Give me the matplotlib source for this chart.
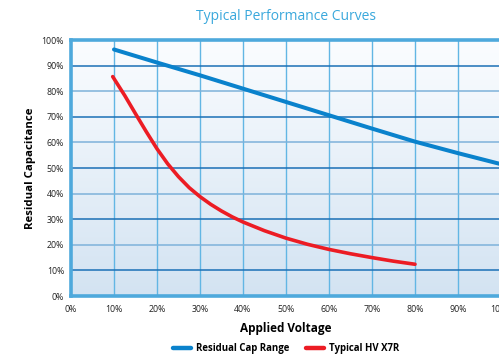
import numpy as np
import matplotlib
matplotlib.use("Agg")
import matplotlib.pyplot as plt
from matplotlib.colors import LinearSegmentedColormap

# applied voltage (% of rated)
volt_blue = [10, 20, 30, 40, 50, 60, 70, 80, 90, 100]
cap_blue = [96.3, 91.2, 86.2, 81.0, 75.8, 70.6, 65.4, 60.3, 55.8, 51.5]

volt_red = [9.7, 12.5, 15, 17.5, 20, 22.5, 25, 27.5, 30, 32.5, 35, 37.5, 40, 45, 50,
            55, 60, 65, 70, 75, 80]
cap_red = [85.7, 78.3, 71.2, 64.2, 57.5, 51.6, 46.6, 42.3, 38.8, 35.8, 33.2, 30.9, 28.9,
           25.5, 22.6, 20.2, 18.2, 16.5, 15.0, 13.6, 12.4]

x_ticks = [0, 10, 20, 30, 40, 50, 60, 70, 80, 90, 100]
y_ticks = [0, 10, 20, 30, 40, 50, 60, 70, 80, 90, 100]

plt.rcParams['font.family'] = ['Open Sans', 'DejaVu Sans']

fig = plt.figure(figsize=(4.99, 3.56), dpi=100)
ax = fig.add_axes([71 / 499, 1 - 296 / 356, 430 / 499, 256 / 356])

# soft vertical gradient behind the grid
grad = np.linspace(1, 0, 256).reshape(-1, 1)
cmap = LinearSegmentedColormap.from_list('bg', ['#d3e3f2', '#fbfdff'])
ax.imshow(grad, cmap=cmap, aspect='auto', extent=[0, 1, 0, 1],
          transform=ax.transAxes, zorder=0)

ax.set_xlim(0, 100)
ax.set_ylim(0, 100)

for v in x_ticks[1:-1]:
    ax.axvline(v, color='#62b6e4', lw=1.0, zorder=1)
for v in y_ticks[1:-1]:
    c = '#1b70b6' if v % 20 else '#7eb2da'
    ax.axhline(v, color=c, lw=1.1, zorder=1)

ax.plot(volt_blue, cap_blue, color='#0a82cc', lw=2.9, solid_capstyle='round',
        zorder=3, label='Residual Cap Range')
ax.plot(volt_red, cap_red, color='#ec1c24', lw=2.6, solid_capstyle='round',
        zorder=3, label='Typical HV X7R')

for s in ['left', 'bottom', 'top']:
    ax.spines[s].set_color('#4ea9dc')
    ax.spines[s].set_linewidth(2.6)
ax.spines['right'].set_visible(False)

ax.set_xticks(x_ticks)
ax.set_xticklabels([f'{v}%' for v in x_ticks])
ax.set_yticks(y_ticks)
ax.set_yticklabels([f'{v}%' for v in y_ticks])
ax.tick_params(length=0, labelsize=6.3, colors='#222222')
ax.tick_params(axis='x', pad=6.5)
ax.tick_params(axis='y', pad=5)
for t in ax.get_xticklabels() + ax.get_yticklabels():
    t.set_clip_on(False)

ax.set_xlabel('Applied Voltage', fontsize=8.5, fontweight='bold', labelpad=6)
ax.set_ylabel('Residual Capacitance', fontsize=8.2, fontweight='bold', labelpad=4)

fig.text(286 / 499, 1 - 17 / 356, 'Typical Performance Curves', fontsize=10,
         color='#3aa8dc', ha='center', va='center')

leg = fig.legend(loc='center', bbox_to_anchor=(286 / 499, 1 - 349 / 356), ncol=2,
                 frameon=False, handlelength=1.9, handletextpad=0.5,
                 columnspacing=1.7, prop={'weight': 'bold', 'size': 6.9})
for h in leg.get_lines():
    h.set_linewidth(3.2)
    h.set_solid_capstyle('round')

fig.savefig('out.png', dpi=100)
